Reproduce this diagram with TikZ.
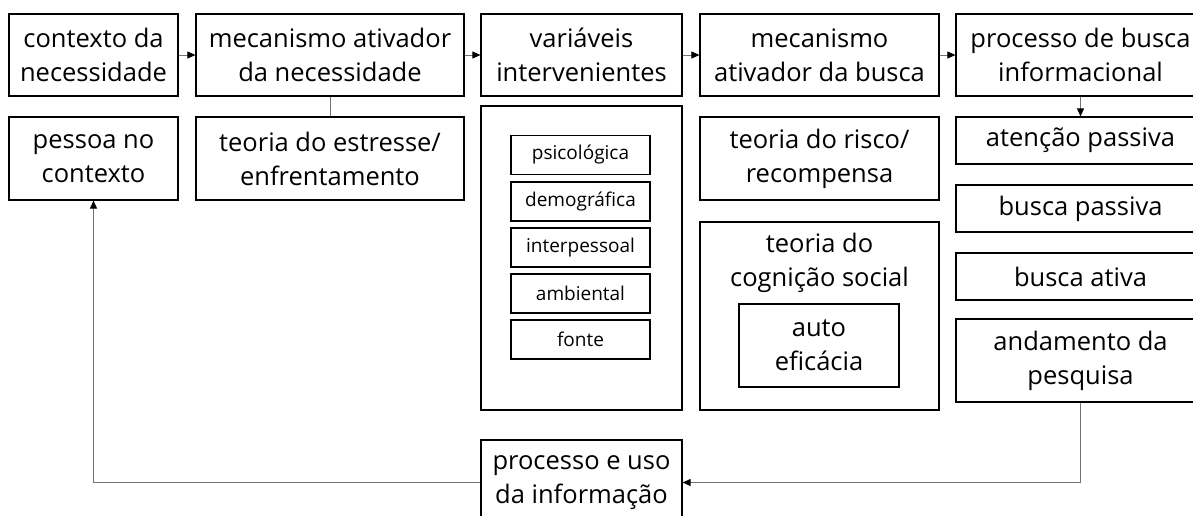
\documentclass[tikz,border=0pt]{standalone}
\usepackage{fontspec}
\setmainfont{Open Sans}
\usetikzlibrary{arrows.meta}
\tikzset{
  box/.style={draw=black, line width=1.2pt, rectangle, inner sep=0pt, align=center, font=\fontsize{25.5}{34}\selectfont},
  smallbox/.style={box, font=\fontsize{19}{22}\selectfont},
  conn/.style={draw=black!55, line width=0.9pt},
  arr/.style={conn, -{Triangle[length=8pt,width=7pt,color=black]}},
}
\begin{document}
\begin{tikzpicture}[x=1pt,y=-1pt]
\path[use as bounding box, clip] (0,0) rectangle (1193,516);
% top row
\node[box, minimum width=169pt, minimum height=82pt] (c1) at (93.5,55) {contexto da\\necessidade};
\node[box, minimum width=268pt, minimum height=82pt] (c2) at (330,55) {mecanismo ativador\\da necessidade};
\node[box, minimum width=201pt, minimum height=82pt] (c3) at (581.5,55) {variáveis\\intervenientes};
\node[box, minimum width=239pt, minimum height=82pt] (c4) at (819.5,55) {mecanismo\\ativador da busca};
\node[box, minimum width=249pt, minimum height=82pt] (c5) at (1080.5,55) {processo de busca\\informacional};
% second row
\node[box, minimum width=169pt, minimum height=83pt] (pessoa) at (93.5,158.5) {pessoa no\\contexto};
\node[box, minimum width=268pt, minimum height=83pt] (estresse) at (330,158.5) {teoria do estresse/\\enfrentamento};
\node[box, minimum width=201pt, minimum height=304pt] (var) at (581.5,258) {};
\node[smallbox, minimum width=139pt, minimum height=39pt] (v1) at (580.5,155) {psicológica};
\node[smallbox, minimum width=139pt, minimum height=39pt] (v2) at (580.5,201.5) {demográfica};
\node[smallbox, minimum width=139pt, minimum height=39pt] (v3) at (580.5,247.5) {interpessoal};
\node[smallbox, minimum width=139pt, minimum height=39pt] (v4) at (580.5,293.5) {ambiental};
\node[smallbox, minimum width=139pt, minimum height=39pt] (v5) at (580.5,339.5) {fonte};
\node[box, minimum width=239pt, minimum height=83pt] (risco) at (819.5,158.5) {teoria do risco/\\recompensa};
\node[box, minimum width=239pt, minimum height=188pt] (cog) at (819.5,316) {};
\node[align=center, inner sep=0pt, font=\fontsize{25.5}{34}\selectfont] (cogt) at (819.5,263) {teoria do\\cognição social};
\node[box, minimum width=160pt, minimum height=83pt] (auto) at (819,345.5) {auto\\eficácia};
% right column
\node[box, minimum width=249pt, minimum height=47pt] (at) at (1080.5,140.5) {atenção passiva};
\node[box, minimum width=249pt, minimum height=47pt] (bp) at (1080.5,208.5) {busca passiva};
\node[box, minimum width=249pt, minimum height=47pt] (ba) at (1080.5,276.5) {busca ativa};
\node[box, minimum width=249pt, minimum height=83pt] (and) at (1080.5,360.5) {andamento da\\pesquisa};
% bottom
\node[box, minimum width=201pt, minimum height=85pt] (proc) at (581.5,482.5) {processo e uso\\da informação};
% connectors
\draw[arr] (c1) -- (c2);
\draw[arr] (c2) -- (c3);
\draw[arr] (c3) -- (c4);
\draw[arr] (c4) -- (c5);
\draw[conn] (c2) -- (estresse);
\draw[arr] (c5) -- (at);
\draw[arr] (and.south) |- (proc.east);
\draw[arr] (proc.west) -| (pessoa.south);
\end{tikzpicture}
\end{document}
